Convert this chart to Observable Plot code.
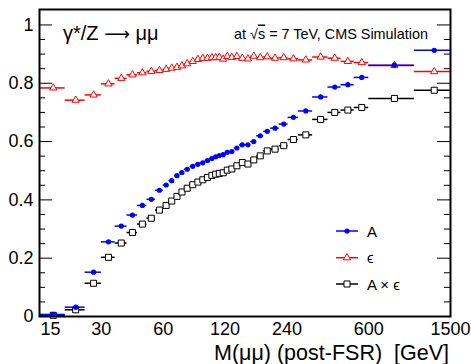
<!DOCTYPE html>
<html><head><meta charset="utf-8">
<script src="https://cdn.jsdelivr.net/npm/d3@7"></script>
<script src="https://cdn.jsdelivr.net/npm/@observablehq/plot@0.6"></script>
<style>body{margin:0;background:#fff} svg{display:block}</style>
</head><body><div id="chart"></div>
<script>
// Bin edges in M(μμ) [GeV]
const binEdges = [15,20,25,30,35,40,45,50,55,60,64,68,72,76,81,86,91,96,101,106,110,115,120,126,133,141,150,160,171,185,200,220,243,273,320,380,440,510,600,1000,1500];
// Acceptance A
const acceptance = [0.007,0.032,0.152,0.256,0.310,0.348,0.381,0.402,0.433,0.451,0.466,0.483,0.494,0.505,0.515,0.522,0.527,0.535,0.542,0.548,0.552,0.555,0.563,0.566,0.578,0.589,0.589,0.600,0.620,0.635,0.646,0.660,0.683,0.705,0.753,0.787,0.795,0.820,0.862,0.913];
// Efficiency ε
const efficiency = [0.784,0.742,0.760,0.798,0.817,0.829,0.836,0.841,0.844,0.848,0.852,0.855,0.860,0.867,0.875,0.882,0.885,0.886,0.888,0.888,0.889,0.883,0.892,0.889,0.892,0.886,0.884,0.893,0.888,0.891,0.886,0.888,0.884,0.880,0.890,0.886,0.875,0.871,0.861,0.840];
// A × ε
const accEff = [0.004,0.023,0.114,0.203,0.252,0.288,0.317,0.337,0.365,0.381,0.396,0.412,0.427,0.440,0.452,0.461,0.469,0.477,0.484,0.488,0.491,0.493,0.502,0.506,0.517,0.528,0.523,0.537,0.551,0.568,0.574,0.586,0.607,0.623,0.676,0.700,0.708,0.717,0.748,0.776];

const xTicks = [15,30,60,120,240,600,1500];
const yMajor = [0,0.2,0.4,0.6,0.8,1];
const yMinor = [0.05,0.1,0.15,0.25,0.3,0.35,0.45,0.5,0.55,0.65,0.7,0.75,0.85,0.9,0.95];

const seriesNames = ["A","ϵ","A × ϵ"];
const seriesColors = ["blue","red","black"];

const rows = acceptance.map((a,i)=>({
  lo: binEdges[i], hi: binEdges[i+1], mid: (binEdges[i]+binEdges[i+1])/2,
  A: a, E: efficiency[i], AE: accEff[i]
}));

const W=471,H=364,mL=39,mR=21,mT=9,mB=48;
const pw = W-mL-mR;
const font = "'Liberation Sans', Arial, Helvetica, sans-serif";

const svg = Plot.plot({
  width: W, height: H, marginLeft: mL, marginRight: mR, marginTop: mT, marginBottom: mB,
  style: {fontFamily: font, background: "white", color: "black", overflow: "visible"},
  x: {type: "log", domain: [15,1500], axis: null},
  y: {domain: [0,1.053], axis: null},
  marks: [
    Plot.tickY(yMajor, {y: d=>d, insetRight: pw-13, stroke: "black"}),
    Plot.tickY(yMajor, {y: d=>d, insetLeft: pw-13, stroke: "black"}),
    Plot.tickY(yMinor, {y: d=>d, insetRight: pw-6, stroke: "black"}),
    Plot.tickY(yMinor, {y: d=>d, insetLeft: pw-6, stroke: "black"}),
    Plot.text(yMajor, {y: d=>d, frameAnchor: "left", text: d=>String(d), textAnchor: "end", dx: -6, fontSize: 18, fill: "black"}),
    Plot.text(xTicks.slice(1), {x: d=>d, frameAnchor: "bottom", text: d=>String(d), lineAnchor: "top", dy: 5.5, fontSize: 18, fill: "black"}),
    Plot.text(xTicks.slice(0,1), {x: d=>d, frameAnchor: "bottom", text: d=>String(d), lineAnchor: "top", textAnchor: "start", dx: 1, dy: 5.5, fontSize: 18, fill: "black"}),
    Plot.ruleY(rows, {y: "AE", x1: "lo", x2: "hi", stroke: "black", strokeWidth: 1.5}),
    Plot.dot(rows, {x: "mid", y: "AE", symbol: "square", r: 3.4, stroke: "black", fill: "white", strokeWidth: 1}),
    Plot.ruleY(rows, {y: "E", x1: "lo", x2: "hi", stroke: "red", strokeWidth: 1.5}),
    Plot.dot(rows, {x: "mid", y: "E", symbol: "triangle", r: 2.7, stroke: "red", fill: "white", strokeWidth: 1}),
    Plot.ruleY(rows, {y: "A", x1: "lo", x2: "hi", stroke: "blue", strokeWidth: 1.5}),
    Plot.dot(rows, {x: "mid", y: "A", r: 2.6, fill: "blue", stroke: "none"}),
    Plot.frame({stroke: "black", strokeWidth: 2})
  ]
});

const s = d3.select(svg);
// Title annotations
const t1 = s.append("text").attr("x", 63).attr("y", 39.5).attr("text-anchor","start").attr("font-family", font).attr("font-size", 20)
  .attr("fill","black");
t1.append("tspan").text("γ*/Z ");
t1.append("tspan").attr("font-family","'DejaVu Sans', sans-serif").attr("font-size",18).text("⟶");
t1.append("tspan").text(" μμ");
const t2 = s.append("text").attr("x", 428).attr("y", 38.5).attr("text-anchor","end")
  .attr("font-family", font).attr("font-size", 14.4).attr("fill","black");
t2.append("tspan").text("at √");
t2.append("tspan").attr("text-decoration","overline").text("s");
t2.append("tspan").text(" = 7 TeV, CMS Simulation");
// X axis title
s.append("text").attr("x", 449).attr("y", 359.5).attr("text-anchor","end")
  .attr("font-family", font).attr("font-size", 21.5).attr("fill","black")
  .text("M(μμ) (post-FSR)  [GeV]");

// Legend
const legY = [231, 257.7, 284];
const symbols = [d3.symbolCircle, d3.symbolTriangle, d3.symbolSquare];
const rs = [2.6, 2.7, 3.4];
const fills = ["blue","white","white"];
const lg = s.append("g");
seriesNames.forEach((name,i)=>{
  const y = legY[i];
  lg.append("line").attr("x1",336).attr("x2",358).attr("y1",y).attr("y2",y)
    .attr("stroke",seriesColors[i]).attr("stroke-width",1.5);
  lg.append("path").attr("transform",`translate(347,${y})`)
    .attr("d", d3.symbol(symbols[i], Math.PI*rs[i]*rs[i])())
    .attr("fill",fills[i]).attr("stroke", i===0?"none":seriesColors[i]).attr("stroke-width",1);
  lg.append("text").attr("x",367).attr("y",y+5.5).attr("text-anchor","start").attr("font-family",font).attr("font-size",15)
    .attr("fill","black").text(name);
});

document.getElementById("chart").appendChild(svg);
</script>
</body></html>
